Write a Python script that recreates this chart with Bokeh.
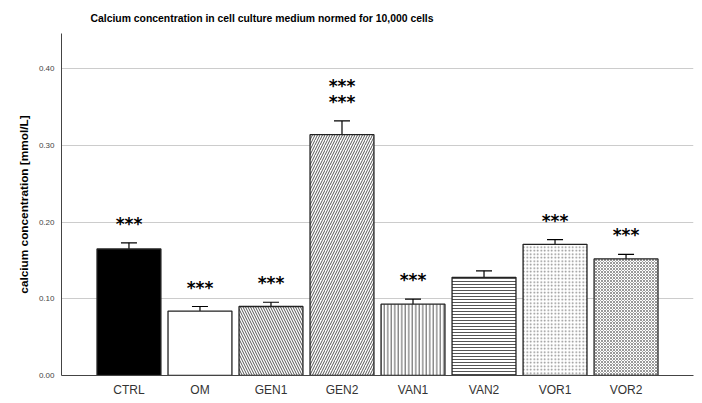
from bokeh.plotting import figure
from bokeh.models import FactorRange, Whisker, ColumnDataSource, FixedTicker, TeeHead, Title
from bokeh.core.properties import value
from bokeh.embed import file_html
from bokeh.resources import INLINE

# ---- data ----
categories = ["CTRL", "OM", "GEN1", "GEN2", "VAN1", "VAN2", "VOR1", "VOR2"]
means = [0.165, 0.084, 0.090, 0.314, 0.093, 0.128, 0.171, 0.152]
errors = [0.008, 0.006, 0.0055, 0.018, 0.0067, 0.0085, 0.0063, 0.006]
sig_rows = [1, 1, 1, 2, 1, 0, 1, 1]
sig_text = "***"
tick_values = [0.0, 0.1, 0.2, 0.3, 0.4]
tick_labels = ["0.00", "0.10", "0.20", "0.30", "0.40"]
title_text = "Calcium concentration in cell culture medium normed for 10,000 cells"
y_label = "calcium concentration [mmol/L]"

# ---- styles ----
fill_colors = ["black", "white", "white", "white", "white", "white", "white", "white"]
hatch_patterns = [" ", " ", "\\", "/", "|", "-", ".", "x"]
hatch_scales = [4, 4, 5, 5, 3.5, 3, 3.5, 3]
hatch_colors = ["#555555", "#555555", "#555555", "#555555", "#555555", "#555555", "#888888", "#999999"]
FONT = "Liberation Sans"

src = ColumnDataSource(dict(
    cat=categories, mean=means,
    upper=[m + e for m, e in zip(means, errors)],
    lower=[m - e for m, e in zip(means, errors)],
    fill=fill_colors, hatch=hatch_patterns, hscale=hatch_scales, hcolor=hatch_colors,
))

p = figure(
    x_range=FactorRange(*categories, range_padding=0.1125, range_padding_units="percent"),
    y_range=(0, 0.446),
    width=702, height=403,
    output_backend="svg", toolbar_location=None,
    min_border_left=61, min_border_right=9, min_border_top=33, min_border_bottom=28,
)
p.outline_line_color = None
p.background_fill_color = "white"
p.border_fill_color = "white"

p.vbar(x="cat", top="mean", width=0.9, source=src,
       fill_color="fill", line_color="#222222", line_width=1.3,
       hatch_pattern="hatch", hatch_scale="hscale", hatch_color="hcolor", hatch_weight=1)

whisk = Whisker(base="cat", upper="upper", lower="lower", source=src,
                line_color="black", line_width=1.2,
                upper_head=TeeHead(size=16, line_color="black", line_width=1.2),
                lower_head=TeeHead(size=16, line_color="black", line_width=1.2))
p.add_layout(whisk)

# significance stars
sx, sy = [], []
for c, m, e, n in zip(categories, means, errors, sig_rows):
    for k in range(n):
        sx.append(c)
        sy.append(m + e + 0.026 + k * 0.0205)
p.text(x=sx, y=sy, text=[sig_text] * len(sx), text_align="center", text_baseline="alphabetic",
       y_offset=1, text_font=value("DejaVu Sans"), text_font_style="bold",
       text_font_size="17px", text_color="black")

# title
p.title.text = title_text
p.title.align = "left"
p.title.offset = 29
p.title.standoff = 20
p.title.text_font = FONT
p.title.text_font_style = "bold"
p.title.text_font_size = "10.4px"
p.title.text_color = "black"

# y-axis title, as a side title so it can sit slightly below the frame centre
ytitle = Title(text=y_label, align="center", offset=-18, standoff=9,
               text_font=FONT, text_font_style="bold", text_font_size="11.8px",
               text_color="black")
p.add_layout(ytitle, "left")

# axes
p.xgrid.grid_line_color = None
p.ygrid.grid_line_color = "#cccccc"
p.ygrid.grid_line_width = 1

p.yaxis.ticker = FixedTicker(ticks=tick_values)
p.yaxis.major_label_overrides = {v: l for v, l in zip(tick_values, tick_labels)}
p.yaxis.major_label_text_font = FONT
p.yaxis.major_label_text_font_size = "8px"
p.yaxis.major_label_text_color = "#444444"
p.yaxis.major_label_standoff = 7

for ax in (p.xaxis, p.yaxis):
    ax.major_tick_in = 0
    ax.major_tick_out = 0
    ax.minor_tick_in = 0
    ax.minor_tick_out = 0
    ax.axis_line_color = "#444444"
    ax.axis_line_width = 1

p.xaxis.major_label_text_font = FONT
p.xaxis.major_label_text_font_size = "12px"
p.xaxis.major_label_text_color = "#333333"
p.xaxis.major_label_standoff = 7

open("out.html", "w").write(file_html(p, INLINE))
